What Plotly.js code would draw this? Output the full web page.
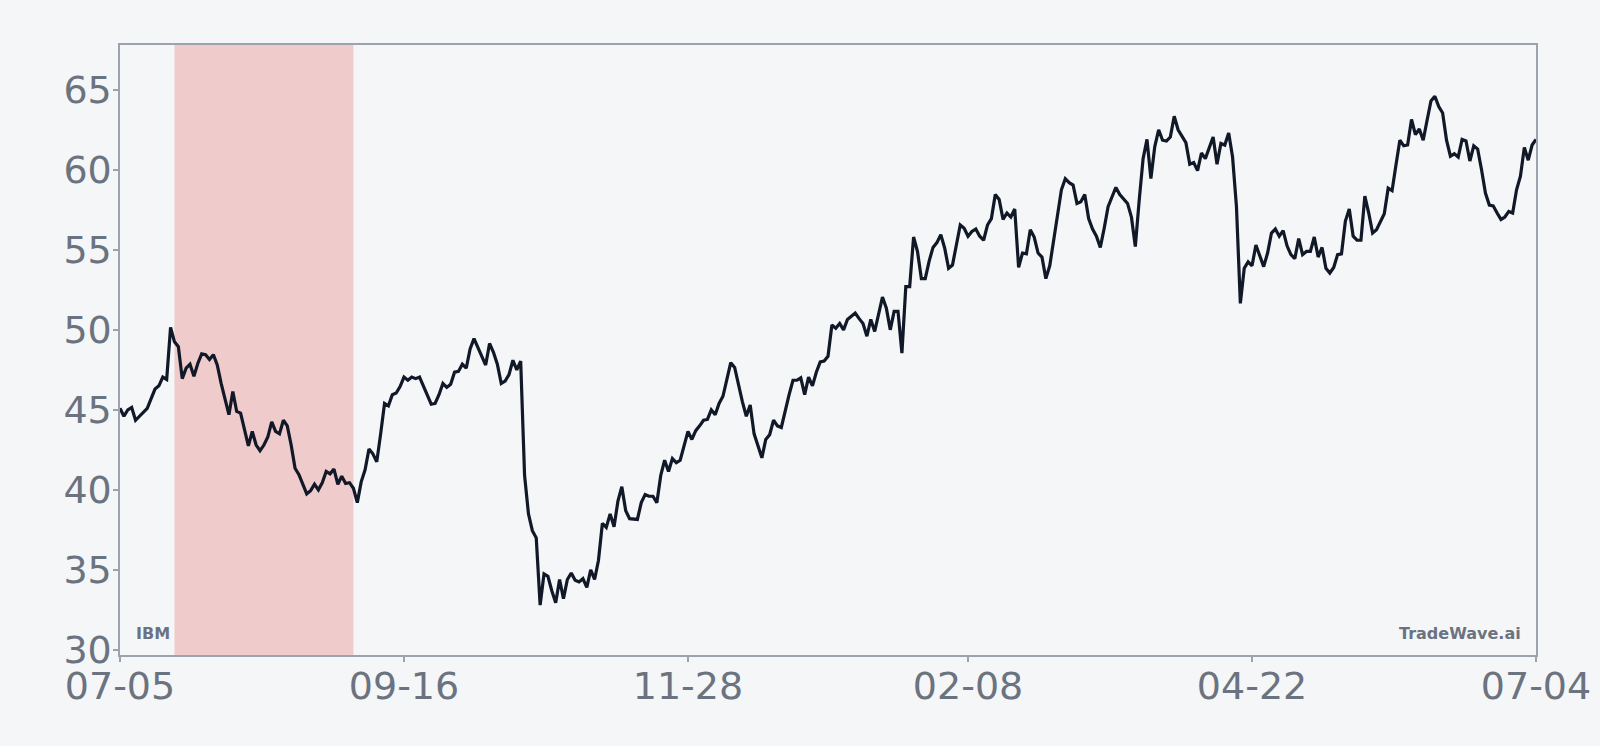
<!DOCTYPE html>
<html>
<head>
<meta charset="utf-8">
<script src="https://cdn.plot.ly/plotly-3.0.1.min.js"></script>
<style>
  html, body { margin: 0; padding: 0; background: #f4f6f8; }
  #chart { width: 1600px; height: 746px; }
</style>
</head>
<body>
<div id="chart"></div>
<script>
// ---- data (daily closes, 2024-07-05 .. 2025-07-04) ----
const ticker = "IBM";
const brand = "TradeWave.ai";
const startDate = "2024-07-05";

const closeJulSep = [
  45.1,44.6,45.0,45.15,44.35,44.6,44.85,45.1,45.7,46.3,
  46.5,47.05,46.9,50.15,49.25,48.95,46.95,47.6,47.85,47.1,
  47.9,48.5,48.45,48.15,48.45,47.8,46.65,45.7,44.7,46.15,
  44.9,44.8,43.75,42.75,43.65,42.8,42.45,42.8,43.3,44.25,
  43.65,43.5,44.35,44.0,42.8,41.35,40.95,40.35,39.75,39.95,
  40.35,40.0,40.45,41.15,41.0,41.3,40.35,40.85,40.4,40.45,
  40.1,39.2,40.5,41.25,42.55,42.25,41.75,43.5,45.4,45.25,
  45.95,46.05,46.45,47.05,46.85,47.05,46.95,47.05,46.5,45.85,
  45.35,45.4,45.95,46.65,46.4,46.6,47.35,47.4,47.85,47.6
];
const closeOctDec = [
  48.8,49.45,48.9,48.35,47.8,49.15,48.6,47.85,46.65,46.8,
  47.2,48.1,47.5,48.05,40.9,38.5,37.45,37.0,32.8,34.75,
  34.6,33.7,32.95,34.4,33.2,34.4,34.8,34.35,34.25,34.45,
  33.9,35.0,34.4,35.6,37.9,37.65,38.5,37.7,39.3,40.2,
  38.7,38.2,38.2,38.15,39.2,39.7,39.6,39.6,39.2,40.9,
  41.85,41.15,41.95,41.7,41.85,42.8,43.65,43.15,43.7,44.0,
  44.35,44.4,45.0,44.7,45.4,45.85,46.9,47.95,47.65,46.55,
  45.5,44.6,45.3,43.5,42.7,42.0,43.15,43.45,44.35,44.0,
  43.9,45.0,45.95,46.85,46.85,47.0,45.95,47.05,46.5,47.35
];
const closeJanMar = [
  48.0,48.05,48.35,50.3,50.1,50.4,50.0,50.65,50.85,51.05,
  50.7,50.4,49.6,50.65,49.9,51.05,52.05,51.35,50.0,51.15,
  51.15,48.55,52.7,52.7,55.8,54.9,53.2,53.2,54.3,55.15,
  55.45,55.95,55.1,53.85,54.05,55.3,56.55,56.35,55.85,56.15,
  56.3,55.85,55.6,56.55,56.95,58.45,58.15,56.9,57.3,57.05,
  57.55,53.9,54.8,54.75,56.25,55.8,54.8,54.55,53.2,54.0,
  55.5,57.2,58.75,59.45,59.2,59.05,57.9,58.0,58.45,56.95,
  56.3,55.85,55.15,56.35,57.7,58.3,58.9,58.45,58.15,57.9,
  57.05,55.2,58.1,60.7,61.9,59.45,61.45,62.5,61.85,61.8
];
const closeAprJul = [
  62.05,63.35,62.5,62.1,61.7,60.35,60.45,59.95,61.05,60.7,
  61.35,62.05,60.35,61.65,61.55,62.3,60.8,57.7,51.65,53.85,
  54.25,54.0,55.3,54.55,53.95,54.8,56.05,56.3,55.85,56.2,
  55.25,54.7,54.45,55.7,54.7,54.9,54.9,55.8,54.55,55.15,
  53.85,53.55,53.9,54.7,54.75,56.8,57.55,55.85,55.6,55.6,
  58.35,57.3,56.05,56.25,56.7,57.25,58.85,58.7,60.3,61.85,
  61.5,61.55,63.15,62.2,62.55,61.85,63.1,64.3,64.6,63.95,
  63.55,61.85,60.85,61.0,60.8,61.9,61.8,60.55,61.5,61.3,
  60.0,58.55,57.8,57.75,57.3,56.9,57.05,57.4,57.3,58.75,
  59.6,61.4,60.6,61.55,61.9
];

const tickDates = ["2024-07-05","2024-09-16","2024-11-28","2025-02-08","2025-04-22","2025-07-04"];
const tickLabels = ["07-05","09-16","11-28","02-08","04-22","07-04"];
const shadeStart = "2024-07-19";
const shadeEnd = "2024-09-03";
const xStart = "2024-07-05";
const xEnd = "2025-07-04";
const yRange = [29.68, 67.8];
const yTicks = [30, 35, 40, 45, 50, 55, 60, 65];

// ---- build series ----
const closes = closeJulSep.concat(closeOctDec, closeJanMar, closeAprJul);
const dates = [];
const d0 = new Date(startDate + "T00:00:00Z");
for (let i = 0; i < closes.length; i++) {
  const d = new Date(d0.getTime() + i * 86400000);
  dates.push(d.toISOString().slice(0, 10));
}

const grey = "#6b7280";
const spine = "#9ca3af";
const font = "DejaVu Sans, sans-serif";

const trace = {
  x: dates,
  y: closes,
  type: "scatter",
  mode: "lines",
  line: { color: "#111827", width: 3.2 },
  hoverinfo: "skip",
  showlegend: false
};

const layout = {
  width: 1600,
  height: 746,
  paper_bgcolor: "#f4f6f8",
  plot_bgcolor: "#f4f6f8",
  margin: { l: 120, r: 64, t: 45, b: 91 },
  font: { family: font, color: grey },
  xaxis: {
    type: "date",
    range: [xStart, xEnd],
    tickvals: tickDates,
    ticktext: tickLabels,
    tickfont: { family: font, size: 38, color: grey },
    ticklabelstandoff: -8,
    showgrid: false,
    zeroline: false,
    showline: true,
    linecolor: spine,
    linewidth: 1.6,
    mirror: true,
    ticks: "outside",
    ticklen: 5,
    tickwidth: 1.4,
    tickcolor: spine
  },
  yaxis: {
    range: yRange,
    tickvals: yTicks,
    tickfont: { family: font, size: 38, color: grey },
    ticklabelstandoff: -6,
    showgrid: false,
    zeroline: false,
    showline: true,
    linecolor: spine,
    linewidth: 1.6,
    mirror: true,
    ticks: "outside",
    ticklen: 5,
    tickwidth: 1.4,
    tickcolor: spine
  },
  shapes: [{
    type: "rect",
    xref: "x", yref: "paper",
    x0: shadeStart, x1: shadeEnd,
    y0: 0, y1: 1,
    fillcolor: "#efcbcb",
    line: { width: 0 },
    layer: "below"
  }],
  annotations: [
    {
      text: "<b>" + ticker + "</b>",
      xref: "paper", yref: "paper",
      x: 0, y: 0, xanchor: "left", yanchor: "bottom",
      xshift: 14, yshift: 10,
      showarrow: false,
      font: { family: font, size: 16, color: grey }
    },
    {
      text: "<b>" + brand + "</b>",
      xref: "paper", yref: "paper",
      x: 1, y: 0, xanchor: "right", yanchor: "bottom",
      xshift: -13, yshift: 10,
      showarrow: false,
      font: { family: font, size: 16, color: grey }
    }
  ]
};

Plotly.newPlot("chart", [trace], layout, { staticPlot: true, displayModeBar: false });
</script>
</body>
</html>
